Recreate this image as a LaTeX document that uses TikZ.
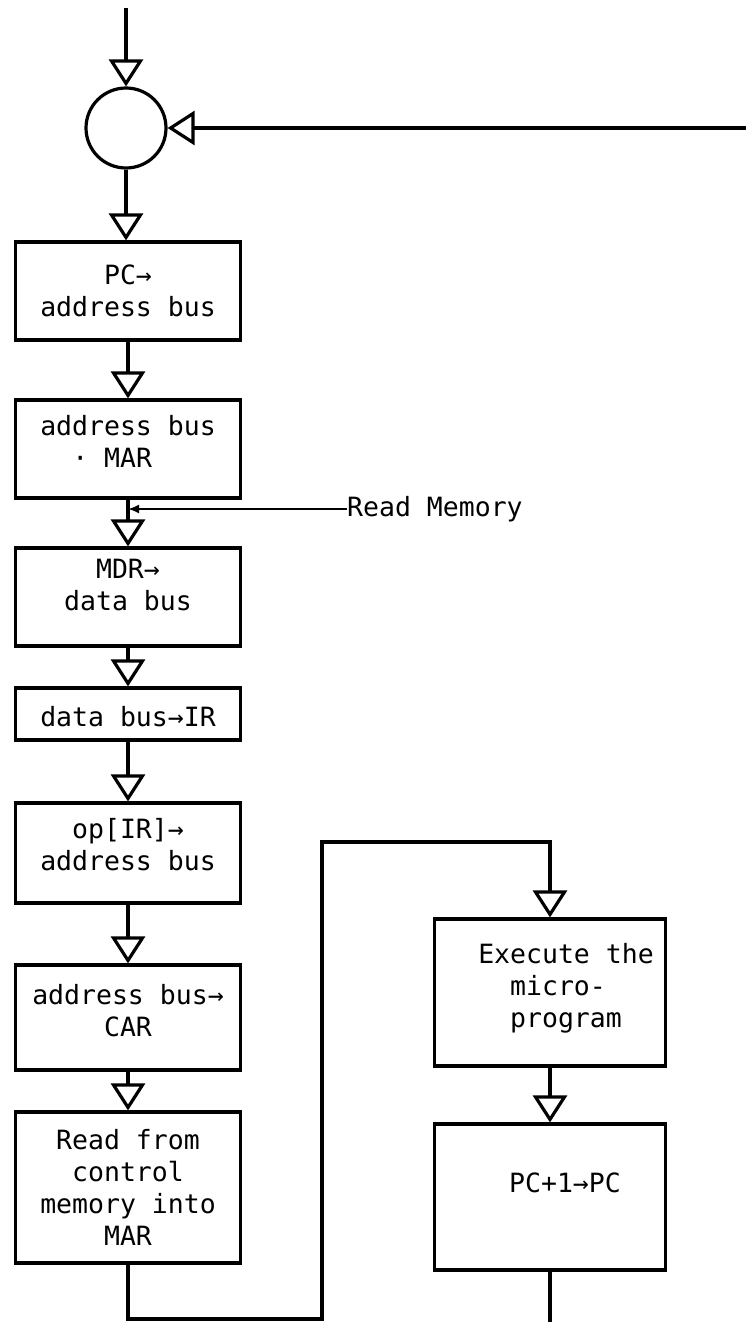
\documentclass[tikz,border=0pt]{standalone}
\usepackage{fontspec}
\setmainfont{DejaVu Sans Mono}
\usetikzlibrary{arrows.meta,calc}

\tikzset{
  wire/.style={line width=3.2pt},
  flow/.style={wire, -{Triangle[open,length=27pt,width=34pt]}},
  signal/.style={line width=2pt, -{Latex[length=11pt,width=9pt]}},
  box/.style={draw, line width=3.2pt, rectangle, inner sep=0pt},
  lbox/.style={box, minimum width=225pt},
  rbox/.style={box, minimum width=231pt},
  txt/.style={font=\fontsize{26.5pt}{32pt}\selectfont, align=center, inner sep=0pt},
}

\begin{document}
\begin{tikzpicture}[x=1pt, y=-1pt]
  \useasboundingbox (0,0) rectangle (746,1322);

  % junction at the top of the fetch cycle
  \coordinate (in) at (126,8);
  \coordinate (back) at (746,128);
  \node[draw, circle, line width=3.2pt, minimum size=80pt, inner sep=0pt] (c) at (126,128) {};

  % fetch steps
  \node[lbox, minimum height=98pt]  (b1) at (128,291)    {};
  \node[lbox, minimum height=98pt]  (b2) at (128,449)    {};
  \node[lbox, minimum height=98pt]  (b3) at (128,597)    {};
  \node[lbox, minimum height=52pt]  (b4) at (128,714)    {};
  \node[lbox, minimum height=100pt] (b5) at (128,853)    {};
  \node[lbox, minimum height=105pt] (b6) at (128,1017.5) {};
  \node[lbox, minimum height=151pt] (b7) at (128,1187.5) {};

  \node[txt] (t1) at (b1.center) {PC→\\address bus};
  \node[txt, align=left] (t2) at ([yshift=8pt]b2.center) {address bus\\\hspace*{32pt}· MAR};
  \node[txt] (t3) at ([yshift=12pt]b3.center) {MDR→\\data bus};
  \node[txt] (t4) at ([yshift=-3pt]b4.center) {data bus→IR};
  \node[txt] (t5) at ([yshift=8pt]b5.center) {op[IR]→\\address bus};
  \node[txt] (t6) at ([yshift=7pt]b6.center) {address bus→\\CAR};
  \node[txt] (t7) at (b7.center) {Read from\\control\\memory into\\MAR};

  % execute steps
  \node[rbox, minimum height=147pt] (ex) at (550,992.5) {};
  \node[rbox, minimum height=146pt] (pc) at (550,1197)  {};
  \node[txt, align=left] (tex) at ([xshift=16pt,yshift=4pt]ex.center) {Execute the\\\phantom{Ex}micro-\\\phantom{Ex}program};
  \node[txt] (tpc) at ([xshift=15pt,yshift=14pt]pc.center) {PC+1→PC};

  % memory read control signal
  \node[txt, anchor=west] (rm) at (347,509) {Read Memory};

  % loop corners and exit
  \coordinate (lbr) at (322,1319);
  \coordinate (ltr) at (322,842);
  \coordinate (out) at (550,1322);

  % connectors
  \draw[flow] (in) -- (c.north);
  \draw[flow] (back) -- (c.east);
  \draw[flow] (c.south) -- (b1.north -| c.south);
  \draw[flow] (b1.south) -- (b2.north);
  \draw[flow] (b2.south) -- (b3.north);
  \draw[flow] (b3.south) -- (b4.north);
  \draw[flow] (b4.south) -- (b5.north);
  \draw[flow] (b5.south) -- (b6.north);
  \draw[flow] (b6.south) -- (b7.north);
  \draw[flow] (b7.south) |- (lbr) -- (ltr) -| (ex.north);
  \draw[flow] (ex.south) -- (pc.north);
  \draw[wire] (pc.south) -- (out);
  \draw[signal] (rm.west) -- (rm.west -| b2.south);
\end{tikzpicture}
\end{document}
